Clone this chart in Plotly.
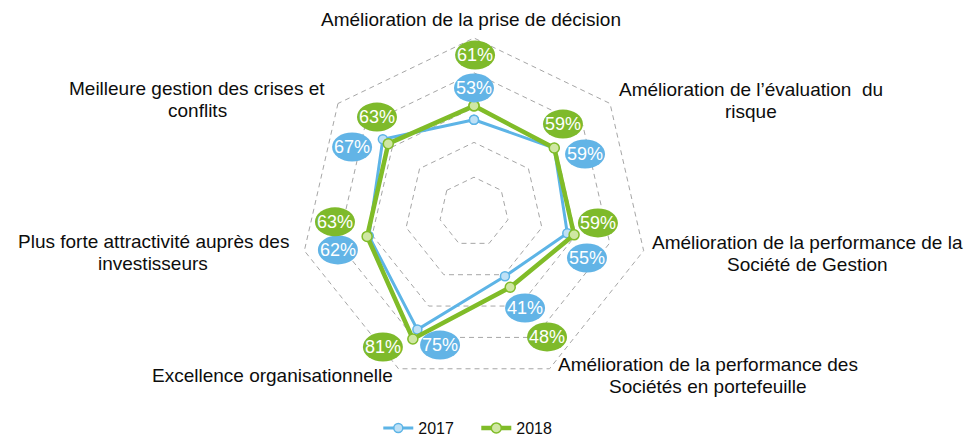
import math
import plotly.graph_objects as go

# ---------------- data ----------------
categories = [
    "Amélioration de la prise de décision",
    "Amélioration de l’évaluation\u00a0 du<br>risque",
    "Amélioration de la performance de la<br>Société de Gestion",
    "Amélioration de la performance des<br>Sociétés en portefeuille",
    "Excellence organisationnelle",
    "Plus forte attractivité auprès des<br>investisseurs",
    "Meilleure gestion des crises et<br>conflits",
]
series_names = ["2017", "2018"]
values_2017 = [53, 59, 55, 41, 75, 62, 67]
values_2018 = [61, 59, 59, 48, 81, 63, 63]
radial_ticks = [20, 40, 60, 80, 100]

# ---------------- style / layout constants ----------------
W, H = 974, 439
CX, CY, R100 = 474, 212, 174        # radar centre and radius of the 100 ring (px)
RMAX = 100.6                        # a bit above 100 so the outer ring is drawn
R = R100 * RMAX / 100
FONT = "Arial, 'Liberation Sans', sans-serif"
BLUE, BLUE_FILL, BLUE_BUBBLE = "#5DB4E6", "#BFE1F6", "#62B4E6"
GREEN, GREEN_FILL, GREEN_BUBBLE = "#80BC28", "#CFE7A3", "#7EBA2B"
GRID = "#A6A6A6"

# label bubble offsets (radial offset in value units, angular offset in degrees)
lbl_dr_2017 = [18.3, 13.0, 15.1, 21.5, 3.9, 19.2, 12.4]
lbl_dt_2017 = [0.0, 11.0, 9.3, -2.3, -11.4, -2.7, -10.5]
lbl_dr_2018 = [29.2, 12.9, 12.5, 35.2, 12.6, 17.1, 15.0]
lbl_dt_2018 = [0.4, -6.1, -7.8, -4.6, 8.3, 8.8, 5.8]

# category label anchor positions (px, centre of first line)
cat_label_px = [(471, 19.5), (751, 89.7), (807, 242.5), (708, 364.5),
                (272, 375), (153, 241.7), (197, 88.3)]
LINE_STEP = 22

dom_x = [(CX - R) / W, (CX + R) / W]
dom_y = [1 - (CY + R) / H, 1 - (CY - R) / H]

fig = go.Figure()

# invisible cartesian overlay (same square as the polar area) for bubble shapes
fig.add_trace(go.Scatter(x=[0], y=[0], mode="markers", marker=dict(opacity=0),
                         showlegend=False, hoverinfo="skip", xaxis="x", yaxis="y"))

series = [
    (series_names[0], values_2017, BLUE, BLUE_FILL, 3, 9),
    (series_names[1], values_2018, GREEN, GREEN_FILL, 4.5, 10),
]
for name, vals, col, fill, lw, ms in series:
    fig.add_trace(go.Scatterpolar(
        r=vals + vals[:1],
        theta=categories + categories[:1],
        mode="lines+markers",
        name=name,
        line=dict(color=col, width=lw),
        marker=dict(size=ms, color=fill, line=dict(color=col, width=1.5)),
        hoverinfo="skip",
    ))

shapes, annotations = [], []
n = len(categories)
bubble_sets = [
    (values_2017, lbl_dr_2017, lbl_dt_2017, BLUE_BUBBLE),
    (values_2018, lbl_dr_2018, lbl_dt_2018, GREEN_BUBBLE),
]
for vals, drs, dts, col in bubble_sets:
    for k, (v, dr, dt) in enumerate(zip(vals, drs, dts)):
        theta = k * 360 / n + dt
        a = math.radians(90 - theta)
        rr = v + dr
        x, y = rr * math.cos(a), rr * math.sin(a)
        shapes.append(dict(type="circle", xref="x", yref="y",
                           xsizemode="pixel", ysizemode="pixel",
                           xanchor=x, yanchor=y, x0=-20, x1=20, y0=-14.5, y1=14.5,
                           fillcolor=col, line=dict(width=0), layer="above"))
        annotations.append(dict(x=x, y=y, xref="x", yref="y", text=f"{v}%",
                                showarrow=False, xanchor="center", yanchor="middle",
                                font=dict(family=FONT, size=18, color="white")))

for cat, (px, py) in zip(categories, cat_label_px):
    for j, line in enumerate(cat.split("<br>")):
        annotations.append(dict(x=px / W, y=1 - (py + j * LINE_STEP) / H,
                                xref="paper", yref="paper", text=line,
                                showarrow=False, xanchor="center", yanchor="middle",
                                font=dict(family=FONT, size=19, color="#0D0D0D")))

fig.update_layout(
    width=W, height=H,
    margin=dict(l=0, r=0, t=0, b=0, autoexpand=False),
    paper_bgcolor="white", plot_bgcolor="rgba(0,0,0,0)",
    font=dict(family=FONT),
    polar=dict(
        domain=dict(x=dom_x, y=dom_y),
        bgcolor="rgba(0,0,0,0)",
        gridshape="linear",
        radialaxis=dict(range=[0, RMAX], tickvals=radial_ticks, showticklabels=False,
                        ticks="", showline=False, gridcolor=GRID, gridwidth=1,
                        griddash="5px,4px"),
        angularaxis=dict(rotation=90, direction="clockwise", showticklabels=False,
                         ticks="", showgrid=False, showline=False),
    ),
    xaxis=dict(domain=dom_x, range=[-RMAX, RMAX], visible=False, fixedrange=True),
    yaxis=dict(domain=dom_y, range=[-RMAX, RMAX], visible=False, fixedrange=True),
    shapes=shapes,
    annotations=annotations,
    showlegend=True,
    legend=dict(orientation="h", x=0.489, xanchor="center", y=0.025, yanchor="middle",
                entrywidth=53, entrywidthmode="pixels",
                font=dict(family=FONT, size=16, color="#0D0D0D"),
                bgcolor="rgba(0,0,0,0)", traceorder="normal"),
)

fig.write_html("out.html", config={"displayModeBar": False},
               post_script="document.body.style.margin='0';document.body.style.padding='0';")
